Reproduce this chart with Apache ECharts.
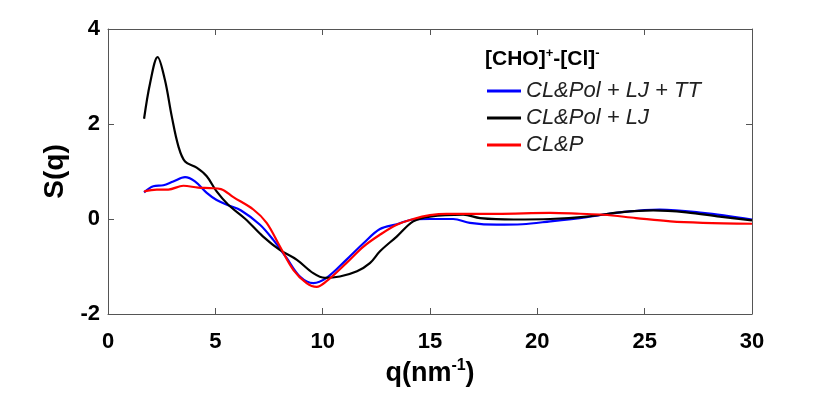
<!DOCTYPE html>
<html>
<head>
<meta charset="utf-8">
<script src="https://cdn.jsdelivr.net/npm/echarts@6/dist/echarts.min.js"></script>
<style>
  html, body { margin: 0; padding: 0; background: #fff; }
  #chart { width: 830px; height: 393px; }
</style>
</head>
<body>
<div id="chart"></div>
<script>
// S(q) curves
const seriesNames = ["CL&Pol + LJ + TT", "CL&Pol + LJ", "CL&P"];

const qBlue = [1.68, 2.11, 2.58, 3.04, 3.59, 4.05, 4.6, 5.06, 5.6, 6.2, 7.08, 7.7, 8.32, 8.94, 9.56, 10.18, 11.1, 11.9, 12.67, 13.45, 14.22, 15.0, 16.08, 16.86, 18.1, 19.3, 20.6, 22.3, 23.85, 25.7, 27.7, 30];
const sBlue = [0.56, 0.69, 0.71, 0.79, 0.88, 0.79, 0.55, 0.40, 0.29, 0.18, -0.12, -0.44, -0.82, -1.21, -1.35, -1.24, -0.86, -0.51, -0.21, -0.11, -0.01, 0.0, 0.0, -0.08, -0.12, -0.11, -0.05, 0.04, 0.14, 0.20, 0.13, -0.01];

const qBlack = [1.68, 1.96, 2.31, 2.65, 2.97, 3.28, 3.59, 4.13, 4.6, 5.06, 5.6, 6.4, 7.2, 8.0, 8.8, 9.56, 10.1, 10.8, 11.6, 12.2, 12.67, 13.45, 14.22, 15.0, 16.55, 17.33, 18.9, 20.6, 22.3, 23.85, 25.4, 26.95, 28.5, 30];
const sBlack = [2.11, 2.86, 3.41, 2.93, 2.16, 1.53, 1.21, 1.08, 0.90, 0.58, 0.30, 0.0, -0.36, -0.65, -0.86, -1.14, -1.24, -1.21, -1.10, -0.93, -0.68, -0.37, -0.05, 0.05, 0.09, 0.02, -0.01, 0.0, 0.05, 0.14, 0.18, 0.14, 0.05, -0.03];

const qRed = [1.68, 2.27, 2.81, 3.51, 4.2, 4.75, 5.26, 5.84, 6.77, 7.39, 8.01, 8.63, 9.25, 9.72, 10.18, 11.1, 11.9, 12.67, 13.45, 14.22, 15.0, 15.77, 18.1, 20.6, 22.0, 23.07, 24.6, 26.2, 27.7, 30];
const sRed = [0.58, 0.62, 0.62, 0.70, 0.66, 0.65, 0.63, 0.46, 0.20, -0.08, -0.58, -1.07, -1.35, -1.43, -1.31, -0.93, -0.58, -0.33, -0.12, 0.0, 0.08, 0.11, 0.11, 0.13, 0.11, 0.09, 0.02, -0.05, -0.08, -0.10];

const colors = ["#0000ff", "#000000", "#ff0000"];

function pairs(qs, ss) {
  return qs.map((q, i) => [q, ss[i]]);
}

const font = "'Liberation Sans', Arial, Helvetica, sans-serif";
const axisColor = "#555";

const chart = echarts.init(document.getElementById("chart"));

// top / right box edges, ticks only
const boxAxis = {
  show: true,
  axisLine: { show: true, onZero: false, lineStyle: { color: axisColor, width: 1 } },
  axisTick: { show: true, inside: true, length: 6, lineStyle: { color: axisColor } },
  axisLabel: { show: false },
  splitLine: { show: false },
};

chart.setOption({
  animation: false,
  textStyle: { fontFamily: font },
  grid: { left: 108, right: 78, top: 29, bottom: 79 },
  title: {
    left: 485,
    top: 47,
    padding: 0,
    text: "{b|[CHO]}{s|+}{b|-[Cl]}{s|-}",
    textStyle: {
      rich: {
        b: { fontFamily: font, fontSize: 21, fontWeight: "bold", color: "#000" },
        s: { fontFamily: font, fontSize: 13, fontWeight: "bold", color: "#000", padding: [0, 0, 12, 0] },
      },
    },
  },
  legend: {
    left: 487,
    top: 80,
    padding: 0,
    orient: "vertical",
    itemWidth: 34,
    itemHeight: 3,
    itemGap: 5,
    icon: "rect",
    data: seriesNames,
    textStyle: { fontFamily: font, fontSize: 22, fontStyle: "italic", color: "#222" },
  },
  xAxis: [
    {
      type: "value",
      min: 0,
      max: 30,
      interval: 5,
      name: "{b|q(nm}{s|-1}{b|)}",
      nameLocation: "middle",
      nameGap: 34,
      nameTextStyle: {
        rich: {
          b: { fontFamily: font, fontSize: 27, fontWeight: "bold", color: "#000" },
          s: { fontFamily: font, fontSize: 16, fontWeight: "bold", color: "#000", padding: [0, 0, 16, 0] },
        },
      },
      axisLine: { onZero: false, lineStyle: { color: axisColor, width: 1 } },
      axisTick: { inside: true, length: 6, lineStyle: { color: axisColor } },
      axisLabel: { fontFamily: font, fontSize: 22, fontWeight: "bold", color: "#000", margin: 17 },
      splitLine: { show: false },
    },
    Object.assign({ type: "value", position: "top", min: 0, max: 30, interval: 5 }, boxAxis),
  ],
  yAxis: [
    {
      type: "value",
      min: -2,
      max: 4,
      interval: 2,
      name: "S(q)",
      nameLocation: "middle",
      nameGap: 31,
      nameTextStyle: { fontFamily: font, fontSize: 28, fontWeight: "bold", color: "#000" },
      axisLine: { show: true, onZero: false, lineStyle: { color: axisColor, width: 1 } },
      axisTick: { show: true, inside: true, length: 6, lineStyle: { color: axisColor } },
      axisLabel: { fontFamily: font, fontSize: 22, fontWeight: "bold", color: "#000", margin: 8 },
      splitLine: { show: false },
    },
    Object.assign({ type: "value", position: "right", min: -2, max: 4, interval: 2 }, boxAxis),
  ],
  series: [
    { name: seriesNames[0], data: pairs(qBlue, sBlue) },
    { name: seriesNames[1], data: pairs(qBlack, sBlack) },
    { name: seriesNames[2], data: pairs(qRed, sRed) },
  ].map((s, i) => ({
    name: s.name,
    type: "line",
    data: s.data,
    smooth: 0.35,
    showSymbol: false,
    color: colors[i],
    lineStyle: { color: colors[i], width: 2.2 },
  })),
});
</script>
</body>
</html>
